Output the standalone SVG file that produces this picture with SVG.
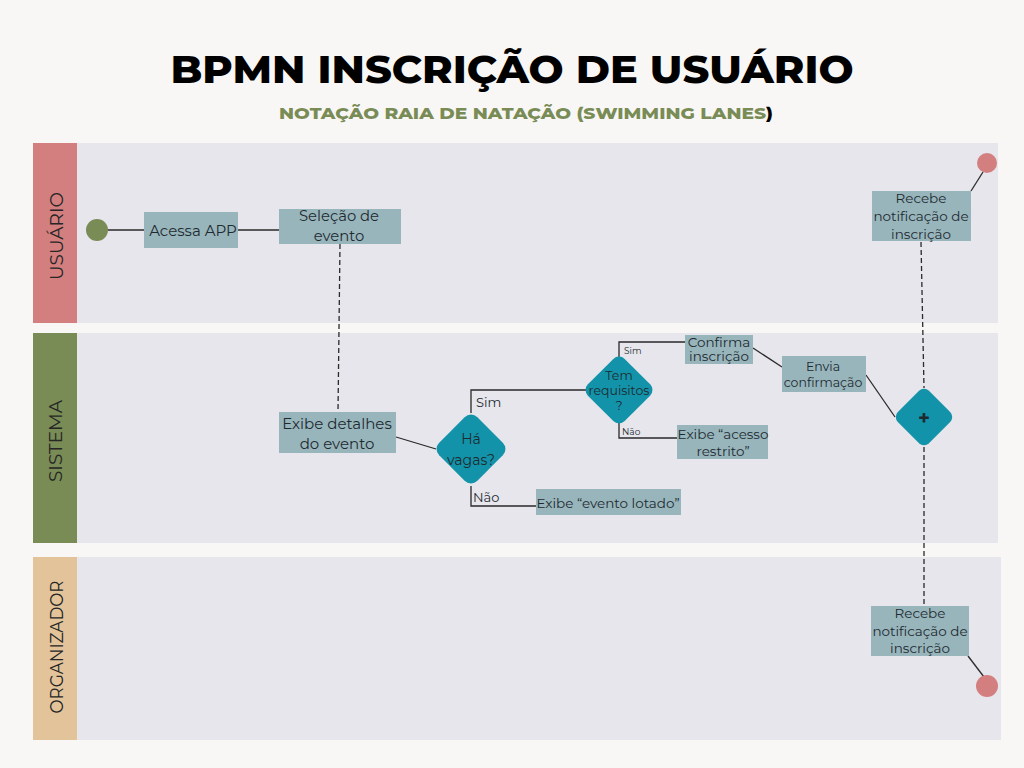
<svg xmlns="http://www.w3.org/2000/svg" width="1024" height="768" viewBox="0 0 1024 768">
<style>
text{font-family:"Montserrat","Inter","Open Sans","Liberation Sans",sans-serif;fill:#1e2a30}
.lane{fill:#e6e6ec}
.task{fill:#98b5bc}
.tt{text-anchor:middle;dominant-baseline:central}
.gw{fill:#1393a9}
.lbl{font-size:19px;text-anchor:middle;dominant-baseline:central;fill:#262626}
.ln{stroke:#2a2a2a;stroke-width:1.3;fill:none}
.dash{stroke:#2a2a2a;stroke-width:1.3;fill:none;stroke-dasharray:5 3}
</style>
<rect width="1024" height="768" fill="#f9f7f5"/>
<text x="512" y="83" text-anchor="middle" font-size="38" font-weight="800" textLength="683" lengthAdjust="spacingAndGlyphs" style="fill:#000">BPMN INSCRIÇÃO DE USUÁRIO</text>
<text x="279" y="119" font-size="16" font-weight="800" textLength="494" lengthAdjust="spacingAndGlyphs"><tspan style="fill:#7a8c55">NOTAÇÃO RAIA DE NATAÇÃO (SWIMMING LANES</tspan><tspan style="fill:#000">)</tspan></text>

<g id="lane-usuario">
<rect class="lane" x="77" y="143" width="921" height="180"/>
<rect x="33" y="143" width="44" height="180" fill="#d47f7f"/>
<text class="lbl" transform="translate(56,236) rotate(-90)" textLength="88" lengthAdjust="spacingAndGlyphs">USUÁRIO</text>
</g>
<g id="lane-sistema">
<rect class="lane" x="77" y="333" width="921" height="210"/>
<rect x="33" y="333" width="44" height="210" fill="#7a8c55"/>
<text class="lbl" transform="translate(55,441) rotate(-90)" textLength="82" lengthAdjust="spacingAndGlyphs">SISTEMA</text>
</g>
<g id="lane-organizador">
<rect class="lane" x="77" y="557" width="924" height="183"/>
<rect x="33" y="557" width="44" height="183" fill="#e3c49a"/>
<text class="lbl" transform="translate(56,647) rotate(-90)" textLength="133" lengthAdjust="spacingAndGlyphs">ORGANIZADOR</text>
</g>

<g id="connectors">
<line class="ln" x1="108" y1="230" x2="144" y2="230"/>
<line class="ln" x1="238" y1="230" x2="279" y2="230"/>
<line class="dash" x1="340" y1="244" x2="338" y2="412"/>
<line class="ln" x1="396" y1="437" x2="436" y2="449"/>
<polyline class="ln" points="471,413 471,390 586,390"/>
<polyline class="ln" points="471,486 471,506 537,506"/>
<polyline class="ln" points="619,357 619,342 686,342"/>
<polyline class="ln" points="619,423 619,438 677,438"/>
<line class="ln" x1="753" y1="348" x2="782" y2="367"/>
<line class="ln" x1="866" y1="375" x2="895" y2="417"/>
<line class="dash" x1="921" y1="242" x2="924" y2="388"/>
<line class="dash" x1="924" y1="447" x2="924" y2="606"/>
<line class="ln" x1="971" y1="191" x2="983" y2="172"/>
<line class="ln" x1="968" y1="656" x2="984" y2="677"/>
<text x="476" y="402" font-size="13" dominant-baseline="central">Sim</text>
<text x="473" y="497" font-size="13" dominant-baseline="central">Não</text>
<text x="624" y="350" font-size="9" dominant-baseline="central">Sim</text>
<text x="622" y="431" font-size="9" dominant-baseline="central">Não</text>
</g>

<g id="start"><circle cx="97" cy="230" r="11" fill="#7a8c55"/></g>
<g id="acessa-app"><rect class="task" x="144" y="212" width="94" height="36"/><text class="tt" x="193" y="230" font-size="15">Acessa APP</text></g>
<g id="selecao-evento"><rect class="task" x="279" y="209" width="122" height="35"/><text class="tt" x="339" y="216" font-size="14.8">Seleção de</text><text class="tt" x="339" y="236" font-size="14.8">evento</text></g>
<g id="exibe-detalhes"><rect class="task" x="279" y="412" width="117" height="41"/><text class="tt" x="337" y="423" font-size="15">Exibe detalhes</text><text class="tt" x="337" y="443" font-size="15">do evento</text></g>
<g id="ha-vagas"><rect class="gw" x="-27" y="-27" width="54" height="54" rx="9" transform="translate(471,449) rotate(45)"/><text class="tt" x="471" y="439" font-size="14">Há</text><text class="tt" x="471" y="460" font-size="14">vagas?</text></g>
<g id="evento-lotado"><rect class="task" x="536" y="489" width="145" height="26"/><text class="tt" x="608" y="503" font-size="13.5">Exibe “evento lotado”</text></g>
<g id="tem-requisitos"><rect class="gw" x="-26" y="-26" width="52" height="52" rx="8" transform="translate(619,390) rotate(45)"/><text class="tt" x="619" y="375" font-size="12.5">Tem</text><text class="tt" x="619" y="390" font-size="12.5">requisitos</text><text class="tt" x="619" y="405" font-size="12.5">?</text></g>
<g id="confirma-inscricao"><rect class="task" x="685" y="335" width="68" height="29"/><text class="tt" x="719" y="342" font-size="13.5">Confirma</text><text class="tt" x="719" y="356" font-size="13.5">inscrição</text></g>
<g id="acesso-restrito"><rect class="task" x="677" y="425" width="91" height="34"/><text class="tt" x="723" y="434" font-size="13.5">Exibe “acesso</text><text class="tt" x="723" y="451" font-size="13.5">restrito”</text></g>
<g id="envia-confirmacao"><rect class="task" x="782" y="356" width="84" height="36"/><text class="tt" x="823" y="366" font-size="12.5">Envia</text><text class="tt" x="823" y="382" font-size="12.5">confirmação</text></g>
<g id="gateway-paralelo"><rect class="gw" x="-22" y="-22" width="44" height="44" rx="7" transform="translate(924,417) rotate(45)"/><text x="924" y="418" font-size="20" font-weight="700" text-anchor="middle" dominant-baseline="central">+</text></g>
<g id="recebe-usuario"><rect class="task" x="872" y="191" width="99" height="50"/><text class="tt" x="921" y="198" font-size="13.5">Recebe</text><text class="tt" x="921" y="216" font-size="13.5">notificação de</text><text class="tt" x="921" y="234" font-size="13.5">inscrição</text></g>
<g id="end-usuario"><circle cx="987" cy="163" r="10" fill="#d47f7f"/></g>
<g id="recebe-organizador"><rect class="task" x="871" y="606" width="98" height="50"/><text class="tt" x="920" y="613" font-size="13.5">Recebe</text><text class="tt" x="920" y="631" font-size="13.5">notificação de</text><text class="tt" x="920" y="648" font-size="13.5">inscrição</text></g>
<g id="end-organizador"><circle cx="987" cy="686" r="11" fill="#d47f7f"/></g>
</svg>
